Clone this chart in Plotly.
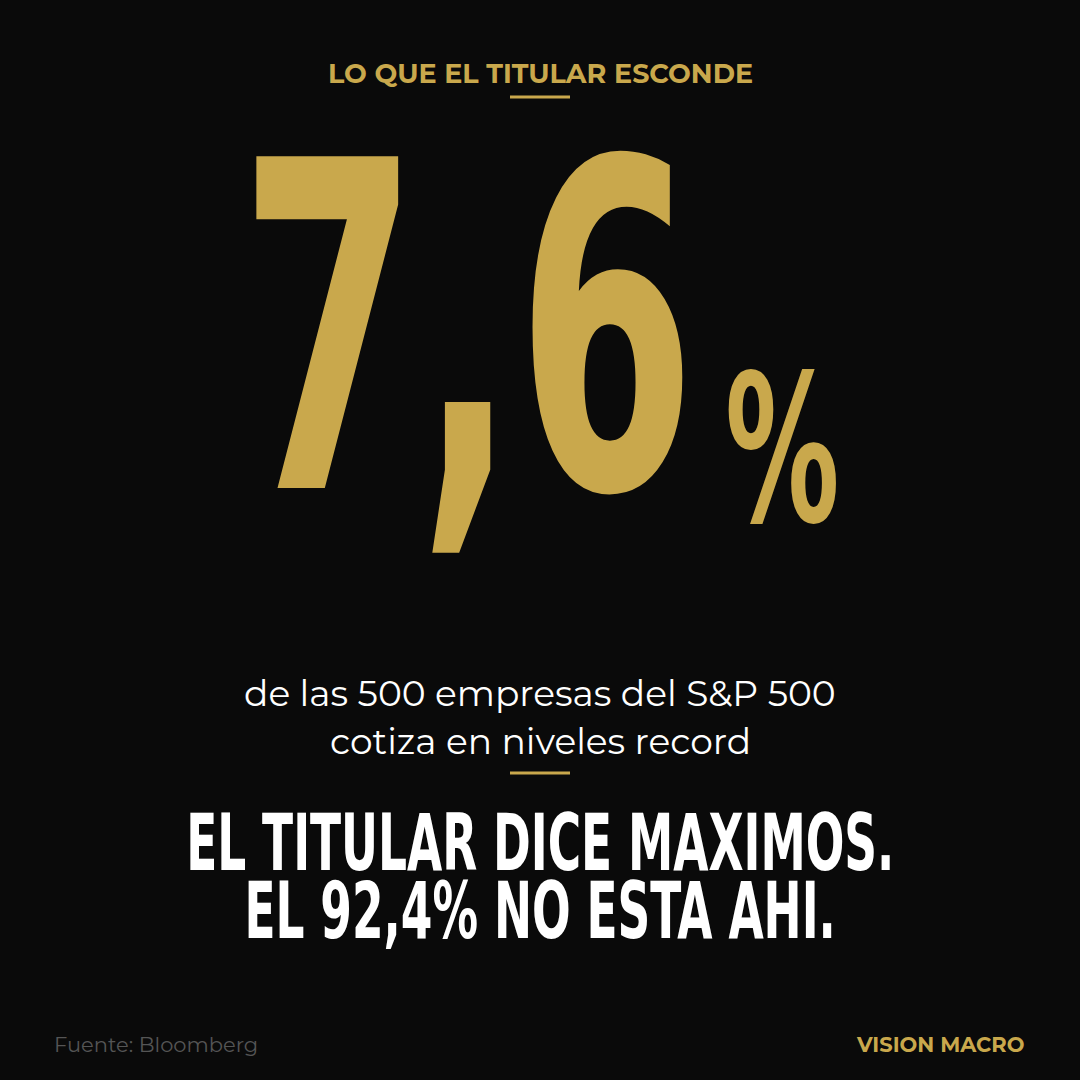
import plotly.graph_objects as go

# data
share_at_record = 7.6
total_companies = 500
share_not_record = round(100 - share_at_record, 1)
kicker = "LO QUE EL TITULAR ESCONDE"
source = "Fuente: Bloomberg"
brand = "VISION MACRO"

GOLD = "#c9a84c"
BG = "#0a0a0a"
W = H = 1080
NARROW = "DejaVu Sans Condensed, Liberation Sans Narrow, sans-serif"
SANS = "Montserrat, Lato, Open Sans, sans-serif"


def fmt(v):
    return f"{v:.1f}".replace(".", ",")


def py(px):
    return 1 - px / H


fig = go.Figure()
ann = []
squeeze = {}  # annotation index -> horizontal scale (display font is very condensed)


def text(s, x, y, size, color, family, anchor="center", bold=False, sx=None):
    if sx:
        squeeze[len(ann)] = sx
    ann.append(dict(
        text=f"<b>{s}</b>" if bold else s, x=x / W, y=py(y), xref="paper", yref="paper",
        xanchor=anchor, yanchor="middle", showarrow=False,
        font=dict(size=size, color=color, family=family),
    ))


text(kicker, 540, 73, 27, GOLD, SANS, bold=True)
text(fmt(share_at_record), 467, 330, 455, GOLD, NARROW, bold=True, sx=0.63)
text("%", 782, 450, 205, GOLD, NARROW, bold=True, sx=0.62)
text(f"de las {total_companies} empresas del S&P 500", 540, 693, 36, "white", SANS)
text("cotiza en niveles record", 540, 741, 36, "white", SANS)
text("EL TITULAR DICE MAXIMOS.", 540, 843, 79, "white", NARROW, bold=True, sx=0.64)
text(f"EL {fmt(share_not_record)}% NO ESTA AHI.", 540, 911, 79, "white", NARROW, bold=True, sx=0.64)
text(source, 52, 1044, 21, "#555555", SANS, anchor="left")
text(brand, 1026, 1044, 21, GOLD, SANS, anchor="right", bold=True)

shapes = [
    dict(type="line", xref="paper", yref="paper", x0=510 / W, x1=570 / W,
         y0=py(y), y1=py(y), line=dict(color=GOLD, width=3))
    for y in (97, 773)
]

fig.update_layout(
    width=W, height=H, margin=dict(l=0, r=0, t=0, b=0),
    paper_bgcolor=BG, plot_bgcolor=BG,
    xaxis=dict(visible=False), yaxis=dict(visible=False),
    annotations=ann, shapes=shapes, showlegend=False,
)

js = "document.body.style.margin='0';document.body.style.background='%s';" % BG
js += "var sq=%s;var g=document.querySelectorAll('g.annotation text.annotation-text');" % (
    {str(k): v for k, v in squeeze.items()}
).__repr__().replace("'", '"')
js += ("for(var k in sq){var t=g[+k];if(t){t.style.transformBox='fill-box';"
       "t.style.transformOrigin='center';t.style.transform='scaleX('+sq[k]+')';}}")
fig.write_html("out.html", post_script=js, config={"displayModeBar": False})
